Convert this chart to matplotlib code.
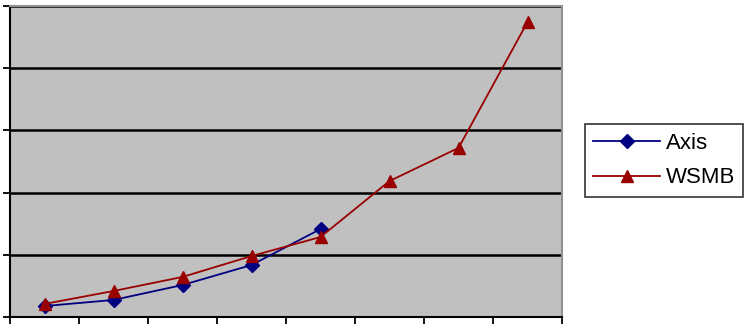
import matplotlib
matplotlib.use("Agg")
import matplotlib.pyplot as plt

categories = [1, 2, 3, 4, 5, 6, 7, 8]
axis_vals = [8.8, 13.7, 25.7, 41.8, 70.7]
wsmb_vals = [10.5, 20.9, 32.2, 49.0, 64.3, 109.3, 135.9, 237.1]
y_ticks = [0, 50, 100, 150, 200, 250]

plt.rcParams['font.family'] = ['Liberation Sans', 'DejaVu Sans']
fig = plt.figure(figsize=(7.5, 3.3), dpi=100)
ax = fig.add_axes([10/750, 1 - 317/330, 552/750, 311/330])
ax.set_facecolor('#C0C0C0')

ax.plot(categories[:len(axis_vals)], axis_vals, color='#000080', lw=1.3,
        marker='D', ms=7, mfc='#000080', mec='#000080', label='Axis', zorder=3)
ax.plot(categories, wsmb_vals, color='#990000', lw=1.3,
        marker='^', ms=9, mfc='#990000', mec='#990000', label='WSMB', zorder=4)

ax.set_xlim(0.5, 8.5)
ax.set_ylim(0, 250)
ax.set_yticks(y_ticks)
ax.set_xticks([0.5 + i for i in range(9)])
ax.set_xticklabels([])
ax.set_yticklabels([])
ax.grid(axis='y', color='black', lw=1.8)
ax.set_axisbelow(True)
ax.tick_params(axis='both', direction='out', length=5, width=1.3, color='black')
for s in ['left', 'bottom']:
    ax.spines[s].set_color('black')
    ax.spines[s].set_linewidth(1.5)
for s in ['top', 'right']:
    ax.spines[s].set_color('#909090')
    ax.spines[s].set_linewidth(1.5)

leg = ax.legend(loc='center left', bbox_to_anchor=(575/552, 1 - (160.5 - 6)/311),
                borderaxespad=0, fontsize=16,
                frameon=True, fancybox=False, edgecolor='black', handlelength=3.0,
                borderpad=0.38, labelspacing=0.62, handletextpad=0.25)
leg.get_frame().set_linewidth(1.2)

fig.savefig('out.png', dpi=100)
